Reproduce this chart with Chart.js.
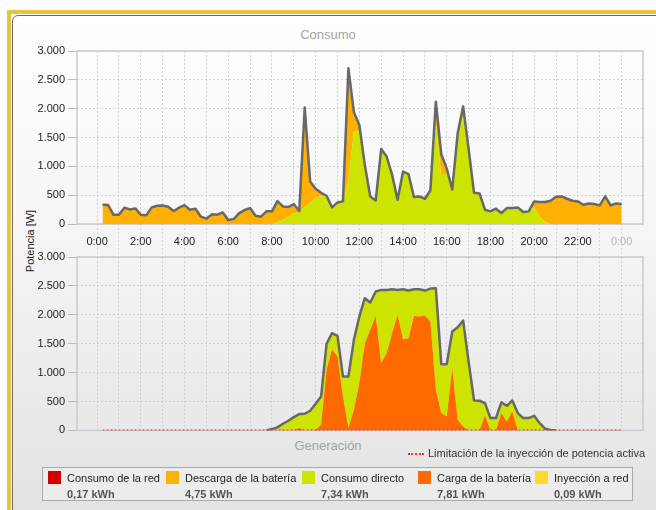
<!DOCTYPE html>
<html lang="es">
<head>
<meta charset="utf-8">
<title>Consumo y generación</title>
<script src="https://cdn.jsdelivr.net/npm/chart.js@4/dist/chart.umd.min.js"></script>
<style>
  html, body { margin: 0; padding: 0; background: #fff; }
  body { width: 656px; height: 510px; position: relative; overflow: hidden;
         font-family: "Liberation Sans", Arial, sans-serif; }
  #frame { position: absolute; left: 7px; top: 10px; width: 700px; height: 600px;
           border-left: 4px solid #e5c63a; border-top: 4px solid #e5c63a; }
  #panel { position: absolute; left: 12px; top: 15px; width: 700px; height: 600px;
           border: 1px solid #6a6a6a; border-radius: 6px;
           background: linear-gradient(#ffffff 0px, #f5f5f5 220px, #e3e3e3 490px); }
  canvas { position: absolute; left: 0; }
  .title { position: absolute; left: 0; width: 656px; text-align: center;
           font-size: 13px; color: #a4a4a4; line-height: 16px; }
  #ytitle { position: absolute; left: 30px; top: 241px; font-size: 11px; color: #222;
            white-space: nowrap; transform: translate(-50%, -50%) rotate(-90deg); }
  #limit { position: absolute; left: 408px; top: 446px; font-size: 11px; color: #333;
           line-height: 14px; white-space: nowrap; }
  #limit i { display: inline-block; width: 16px; border-top: 2px dotted #ff2a2a;
             vertical-align: middle; margin-right: 4px; }
  #legend { position: absolute; left: 42px; top: 467px; width: 589px; height: 32px;
            border: 1px solid #a9a9a9; background: #ececec; }
  .item { position: absolute; top: 0; height: 32px; }
  .sw { position: absolute; left: 0; top: 3px; width: 13px; height: 13px; }
  .name { position: absolute; left: 19px; top: 3px; font-size: 11px; color: #222;
          white-space: nowrap; line-height: 14px; }
  .val { position: absolute; left: 19px; top: 19px; font-size: 11px; font-weight: bold;
         color: #555; white-space: nowrap; line-height: 14px; }
</style>
</head>
<body>
<div id="frame"></div>
<div id="panel"></div>
<div class="title" style="top:27px">Consumo</div>
<div class="title" style="top:438px">Generación</div>
<div id="ytitle">Potencia [W]</div>
<canvas id="consumo" width="656" height="260" style="top:0"></canvas>
<canvas id="generacion" width="656" height="200" style="top:240px"></canvas>
<div id="limit"><i></i>Limitación de la inyección de potencia activa</div>
<div id="legend">
  <div class="item" style="left:5px"><span class="sw" style="background:#d40000"></span><span class="name">Consumo de la red</span><span class="val">0,17 kWh</span></div>
  <div class="item" style="left:123px"><span class="sw" style="background:#ffb000"></span><span class="name">Descarga de la batería</span><span class="val">4,75 kWh</span></div>
  <div class="item" style="left:259px"><span class="sw" style="background:#cde400"></span><span class="name">Consumo directo</span><span class="val">7,34 kWh</span></div>
  <div class="item" style="left:375px"><span class="sw" style="background:#ff6a00"></span><span class="name">Carga de la batería</span><span class="val">7,81 kWh</span></div>
  <div class="item" style="left:492px"><span class="sw" style="background:#ffd92a"></span><span class="name">Inyección a red</span><span class="val">0,09 kWh</span></div>
</div>
<script>
// quarter-hour samples, 0:15 .. 24:00
const times = Array.from({ length: 96 }, (_, i) => (i + 1) / 4);
const hourTicks = Array.from({ length: 25 }, (_, i) => i);
const potenciaTicks = [0, 500, 1000, 1500, 2000, 2500, 3000];

// Consumo (W), one row per hour: :15 :30 :45 :00
const consumoTotal = [
  333, 330, 161, 161,   282, 253, 270, 161,   150, 288, 316, 322,   299, 224, 282, 328,
  247, 265, 127, 92,    167, 161, 201, 69,    86, 190, 242, 276,    144, 127, 219, 219,
  397, 305, 294, 346,   225, 2020, 737, 610,  540, 490, 288, 374,   392, 2700, 1940, 1716,
  1025, 478, 409, 1302, 1169, 852, 420, 910,  864, 467, 478, 438,   582, 2120, 1210, 960,
  600, 1572, 2040, 1300, 540, 530, 248, 219,  265, 190, 276, 276,   288, 207, 219, 392,
  380, 380, 403, 472,   478, 438, 403, 392,   334, 357, 346, 323,   478, 323, 357, 346
];
const consumoDirecto = [
  0, 0, 0, 0,           0, 0, 0, 0,           0, 0, 0, 0,           0, 0, 0, 0,
  0, 0, 0, 0,           0, 0, 0, 0,           0, 0, 0, 0,           0, 0, 0, 0,
  30, 70, 115, 180,     215, 290, 370, 465,   478, 478, 288, 374,   385, 750, 1600, 1620,
  1025, 478, 409, 1302, 1169, 852, 420, 910,  864, 467, 478, 438,   582, 1750, 830, 880,
  600, 1540, 1850, 1300, 540, 530, 248, 219,  265, 190, 276, 276,   288, 207, 219, 290,
  120, 35, 0, 0,        0, 0, 0, 0,           0, 0, 0, 0,           0, 0, 0, 0
];
const descargaBateria = [
  333, 330, 161, 161,   282, 253, 270, 161,   150, 288, 316, 322,   299, 224, 282, 328,
  247, 265, 127, 92,    167, 161, 201, 69,    86, 190, 242, 276,    144, 127, 219, 219,
  367, 235, 179, 166,   10, 1730, 367, 145,   62, 12, 0, 0,         7, 1950, 340, 96,
  0, 0, 0, 0,           0, 0, 0, 0,           0, 0, 0, 0,           0, 370, 330, 40,
  0, 32, 190, 0,        0, 0, 0, 0,           0, 0, 0, 0,           0, 0, 0, 102,
  260, 345, 403, 472,   478, 438, 403, 392,   334, 357, 346, 323,   478, 323, 357, 346
];
const consumoRed = [
  0, 0, 0, 0,  0, 0, 0, 0,  0, 0, 0, 0,  0, 0, 0, 0,  0, 0, 0, 0,  0, 0, 0, 0,
  0, 0, 0, 0,  0, 0, 0, 0,  0, 0, 0, 0,  0, 0, 0, 0,  0, 0, 0, 0,  0, 0, 0, 0,
  0, 0, 0, 0,  0, 0, 0, 0,  0, 0, 0, 0,  0, 0, 50, 40, 0, 0, 0, 0,  0, 0, 0, 0,
  0, 0, 0, 0,  0, 0, 0, 0,  0, 0, 0, 0,  0, 0, 0, 0,  0, 0, 0, 0,  0, 0, 0, 0
];

// Generación (W)
const generacionTotal = [
  null, null, null, null, null, null, null, null, null, null, null, null, null, null, null, null,
  null, null, null, null, null, null, null, null, null, null, null, null, null, null, 0, 23,
  52, 115, 167, 230,    282, 288, 340, 461,   588, 1498, 1682, 1636, 933, 933, 1567, 1970,
  2287, 2212, 2402, 2431, 2431, 2442, 2431, 2442, 2419, 2442, 2442, 2419, 2454, 2460, 1146, 1146,
  1711, 1786, 1901, 1190, 518, 513, 472, 213,  213, 484, 426, 518,   300, 213, 213, 253,
  127, 29, 6, 0,        null, null, null, null, null, null, null, null, null, null, null, null
];
const cargaBateria = [
  0, 0, 0, 0,           0, 0, 0, 0,           0, 0, 0, 0,           0, 0, 0, 0,
  0, 0, 0, 0,           0, 0, 0, 0,           0, 0, 0, 0,           0, 0, 0, 0,
  0, 0, 0, 0,           40, 0, 0, 10,         98, 1048, 1405, 1279, 588, 40, 357, 818,
  1509, 1740, 1981, 1163, 1336, 1682, 1999, 1578, 1596, 1981, 1970, 1987, 1884, 703, 300, 242,
  1077, 184, 69, 0,     0, 0, 260, 0,         0, 300, 150, 330,     0, 0, 0, 0,
  0, 0, 0, 0,           0, 0, 0, 0,           0, 0, 0, 0,           0, 0, 0, 0
];
const directoGeneracion = [
  0, 0, 0, 0,           0, 0, 0, 0,           0, 0, 0, 0,           0, 0, 0, 0,
  0, 0, 0, 0,           0, 0, 0, 0,           0, 0, 0, 0,           0, 0, 0, 23,
  52, 115, 167, 230,    242, 288, 340, 451,   490, 450, 277, 357,   345, 893, 1210, 1152,
  778, 472, 421, 1268,  1095, 760, 432, 864,  823, 461, 472, 432,   570, 1757, 846, 884,
  634, 1602, 1832, 1190, 518, 513, 212, 213,  213, 184, 276, 188,   300, 213, 213, 253,
  127, 29, 6, 0,        0, 0, 0, 0,           0, 0, 0, 0,           0, 0, 0, 0
];
const inyeccionRed = [
  0, 0, 0, 0,  0, 0, 0, 0,  0, 0, 0, 0,  0, 0, 0, 0,  0, 0, 0, 0,  0, 0, 0, 0,
  0, 0, 0, 0,  0, 0, 0, 0,  0, 0, 0, 0,  0, 0, 0, 0,  0, 0, 0, 0,  0, 0, 0, 0,
  0, 0, 0, 0,  0, 0, 0, 0,  0, 0, 0, 0,  0, 0, 0, 20, 0, 0, 0, 0,  0, 0, 0, 0,
  0, 0, 0, 0,  0, 0, 0, 0,  0, 0, 0, 0,  0, 0, 0, 0,  0, 0, 0, 0,  0, 0, 0, 0
];
const limitacionInyeccion = 0;

const FONT = { family: '"Liberation Sans", Arial, sans-serif', size: 11 };
const pts = arr => arr.map((v, i) => ({ x: times[i], y: v }));

function fmtW(v) {
  if (v < 1000) return String(v);
  return Math.floor(v / 1000) + "." + String(v % 1000).padStart(3, "0");
}

// light frame around the plot area
const plotFrame = {
  id: "plotFrame",
  beforeDatasetsDraw(chart) {
    const a = chart.chartArea, ctx = chart.ctx;
    ctx.save();
    ctx.strokeStyle = "#c6cad0";
    ctx.lineWidth = 1.5;
    ctx.strokeRect(a.left, a.top, a.right - a.left, a.bottom - a.top);
    ctx.restore();
  }
};

// stacked area; the first one fills to the axis, the next ones to the dataset before them
function area(label, data, color, fill) {
  return { label, data: pts(data), backgroundColor: color, borderWidth: 0,
           fill, stack: "a", order: 2, pointRadius: 0 };
}
function totalLine(label, data) {
  return { label, data: pts(data), borderColor: "#686868", borderWidth: 2.5,
           fill: false, stack: "total", order: 1, pointRadius: 0, borderJoinStyle: "round" };
}

function yScale() {
  return {
    stacked: true, min: 0, max: 3000,
    afterBuildTicks: s => { s.ticks = potenciaTicks.map(v => ({ value: v })); },
    afterFit: s => { s.width = 77; },
    ticks: { font: FONT, color: "#222", padding: 3, callback: v => fmtW(v) },
    grid: { color: "#cdd0d4", tickLength: 9, tickColor: "#b8bcc2" },
    border: { display: false, dash: [2, 2] }
  };
}

function baseOptions(xScale, padding) {
  return {
    responsive: false, animation: false, events: [],
    layout: { padding },
    plugins: { legend: { display: false }, tooltip: { enabled: false } },
    elements: { line: { tension: 0 } },
    scales: { x: xScale, y: yScale() }
  };
}

new Chart(document.getElementById("consumo"), {
  type: "line",
  data: {
    datasets: [
      area("Consumo directo", consumoDirecto, "#cde400", "origin"),
      area("Descarga de la batería", descargaBateria, "#ffb000", "-1"),
      area("Consumo de la red", consumoRed, "#d40000", "-1"),
      totalLine("Consumo", consumoTotal)
    ]
  },
  options: baseOptions({
    type: "linear", min: -0.92, max: 24.98,
    afterBuildTicks: s => { s.ticks = hourTicks.map(v => ({ value: v })); },
    afterFit: s => { s.height = 36; },
    ticks: {
      autoSkip: false, maxRotation: 0, padding: -22, font: FONT,
      color: ctx => (ctx.tick && ctx.tick.value === 24 ? "#b5b5b5" : "#222"),
      callback: v => (v % 2 === 0 ? (v % 24) + ":00" : "")
    },
    grid: { color: "#cdd0d4", tickLength: 33, tickColor: "#d6d8dc", tickBorderDash: [2, 2] },
    border: { display: false, dash: [2, 2] }
  }, { left: 0, right: 13, top: 51, bottom: 0 }),
  plugins: [plotFrame]
});

new Chart(document.getElementById("generacion"), {
  type: "line",
  data: {
    datasets: [
      area("Carga de la batería", cargaBateria, "#ff6a00", "origin"),
      area("Consumo directo", directoGeneracion, "#cde400", "-1"),
      area("Inyección a red", inyeccionRed, "#ffd92a", "-1"),
      totalLine("Generación", generacionTotal),
      { label: "Limitación de la inyección de potencia activa",
        data: times.map(t => ({ x: t, y: limitacionInyeccion })),
        borderColor: "#ff2a2a", borderWidth: 2, borderDash: [2, 2], fill: false,
        stack: "limit", order: 0, pointRadius: 0 }
    ]
  },
  options: baseOptions({
    type: "linear", min: -0.92, max: 24.98,
    afterBuildTicks: s => { s.ticks = hourTicks.map(v => ({ value: v })); },
    ticks: { display: false },
    grid: { color: "#cdd0d4", drawTicks: false },
    border: { display: false, dash: [2, 2] }
  }, { left: 0, right: 13, top: 17, bottom: 9 }),
  plugins: [plotFrame]
});
</script>
</body>
</html>
